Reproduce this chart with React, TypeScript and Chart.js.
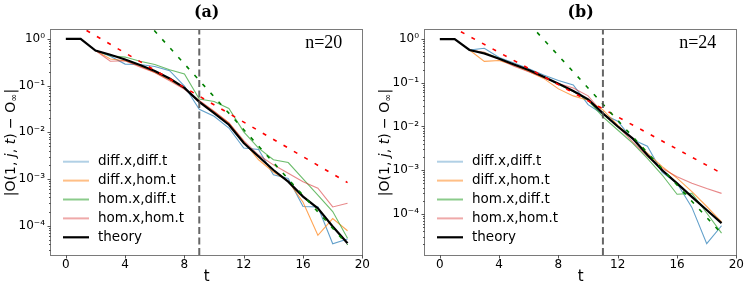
import React, { useEffect, useRef } from 'react';
import { Chart, registerables } from 'chart.js';

Chart.register(...registerables);

// ---------------- data ----------------
const T = [0, 1, 2, 3, 4, 5, 6, 7, 8, 9, 10, 11, 12, 13, 14, 15, 16, 17, 18, 19];
const DASH_T = [0, 19];
const X_TICKS = [0, 4, 8, 12, 16, 20];
const X_RANGE = [-1, 20];
const Y_TICKS = [1, 0.1, 0.01, 0.001, 0.0001];
const Y_TICK_LABELS = ['10⁰', '10⁻¹', '10⁻²', '10⁻³', '10⁻⁴'];
const LEGEND_LABELS = ['diff.x,diff.t', 'diff.x,hom.t', 'hom.x,diff.t', 'hom.x,hom.t', 'theory'];
const TITLES = ['(a)', '(b)'];
const N_LABELS = ['n=20', 'n=24'];
const VLINES = [9, 11];
const Y_RANGE_A = [2.34e-5, 1.55];
const Y_RANGE_B = [1.15e-5, 1.61];

// panel (a), n = 20
const A_DIFFX_DIFFT = [null, null, 0.5623, 0.4266, 0.2884, 0.2818, 0.2570, 0.2089, 0.0977, 0.0309, 0.0219, 0.0123, 0.00457, 0.00427, 0.00123, 0.00102, 0.000257, 0.000251, 0.0000407, 0.0000513];
const A_DIFFX_HOMT = [null, null, 0.5623, 0.3715, 0.3388, 0.2630, 0.1905, 0.1318, 0.0871, 0.0468, 0.0275, 0.0158, 0.00631, 0.00257, 0.00141, 0.000891, 0.000316, 0.0000617, 0.000141, 0.0000776];
const A_HOMX_DIFFT = [null, null, 0.5623, 0.4365, 0.4074, 0.3311, 0.2818, 0.2188, 0.1778, 0.0513, 0.0457, 0.0324, 0.0102, 0.00457, 0.00257, 0.00224, 0.001, 0.000447, 0.000200, 0.0000537];
const A_HOMX_HOMT = [null, null, 0.5623, 0.3311, 0.3388, 0.2512, 0.1905, 0.1259, 0.0832, 0.0479, 0.0282, 0.0158, 0.00661, 0.00324, 0.00200, 0.00132, 0.000871, 0.000631, 0.000251, 0.000302];
const A_THEORY = [1, 1, 0.5623, 0.4571, 0.3631, 0.2754, 0.2042, 0.1413, 0.0891, 0.0447, 0.0257, 0.0145, 0.00589, 0.00302, 0.00155, 0.000871, 0.000417, 0.000234, 0.0000955, 0.0000417];
const A_RED_DASH = [2.754, 0.000832];
const A_GREEN_DASH = [190.5, 0.0000389];

// panel (b), n = 24
const B_DIFFX_DIFFT = [null, null, 0.5623, 0.6166, 0.3802, 0.2818, 0.2089, 0.1514, 0.1122, 0.0891, 0.0316, 0.0191, 0.0132, 0.00501, 0.00355, 0.000891, 0.000501, 0.000141, 0.0000209, 0.0000537];
const B_DIFFX_HOMT = [null, null, 0.5623, 0.3090, 0.3236, 0.2512, 0.1820, 0.1259, 0.0724, 0.0501, 0.0398, 0.0240, 0.0107, 0.00537, 0.00245, 0.00120, 0.000661, 0.000324, 0.000148, 0.0000661];
const B_HOMX_DIFFT = [null, null, 0.5623, 0.4898, 0.3631, 0.2630, 0.1905, 0.1349, 0.0912, 0.0631, 0.0398, 0.0166, 0.00832, 0.00417, 0.00186, 0.000776, 0.000282, 0.000295, 0.000105, 0.0000363];
const B_HOMX_HOMT = [null, null, 0.5623, 0.5012, 0.3467, 0.2399, 0.1778, 0.1318, 0.0955, 0.0759, 0.0501, 0.0200, 0.01, 0.00447, 0.00204, 0.00110, 0.000708, 0.000501, 0.000380, 0.000295];
const B_THEORY = [1, 1, 0.5623, 0.4677, 0.3548, 0.2630, 0.1950, 0.1380, 0.0955, 0.0646, 0.0417, 0.0200, 0.01, 0.00537, 0.00224, 0.001, 0.000501, 0.000245, 0.000123, 0.0000617];
const B_RED_DASH = [2.692, 0.000851];
const B_GREEN_DASH = [380.2, 0.0000355];

// ---------------- styling ----------------
const LINE_COLORS = ['rgba(31,119,180,0.7)', 'rgba(255,127,14,0.7)', 'rgba(44,160,44,0.7)', 'rgba(214,39,40,0.55)', '#000000'];
const LEGEND_COLORS = ['rgba(31,119,180,0.35)', 'rgba(255,127,14,0.5)', 'rgba(44,160,44,0.55)', 'rgba(214,39,40,0.4)', '#000000'];
const SANS = '"DejaVu Sans", sans-serif';

type PanelDef = {
  title: string;
  nLabel: string;
  vline: number;
  yRange: number[];
  series: (number | null)[][];
  redDash: number[];
  greenDash: number[];
};

const PANELS: PanelDef[] = [
  { title: TITLES[0], nLabel: N_LABELS[0], vline: VLINES[0], yRange: Y_RANGE_A, series: [A_DIFFX_DIFFT, A_DIFFX_HOMT, A_HOMX_DIFFT, A_HOMX_HOMT, A_THEORY], redDash: A_RED_DASH, greenDash: A_GREEN_DASH },
  { title: TITLES[1], nLabel: N_LABELS[1], vline: VLINES[1], yRange: Y_RANGE_B, series: [B_DIFFX_DIFFT, B_DIFFX_HOMT, B_HOMX_DIFFT, B_HOMX_HOMT, B_THEORY], redDash: B_RED_DASH, greenDash: B_GREEN_DASH },
];

const W = 373;
const H = 285;

function toPoints(xs: number[], ys: (number | null)[]) {
  return xs.map((x, i) => ({ x, y: ys[i] }));
}

function makeDecor(p: PanelDef) {
  return {
    id: 'decor',
    afterDraw(chart: any) {
      const { ctx, chartArea: a, scales } = chart;
      const xs = scales.x;
      const ys = scales.y;
      ctx.save();
      // frame
      ctx.strokeStyle = '#7a7a7a';
      ctx.lineWidth = 1;
      ctx.strokeRect(Math.round(a.left) - 0.5, Math.round(a.top) - 0.5, Math.round(a.right - a.left) + 1, Math.round(a.bottom - a.top) + 1);
      // ticks
      ctx.strokeStyle = '#555';
      ctx.beginPath();
      for (const v of X_TICKS) {
        const px = Math.round(xs.getPixelForValue(v)) + 0.5;
        ctx.moveTo(px, a.bottom);
        ctx.lineTo(px, a.bottom + 3.5);
      }
      for (let e = -6; e <= 1; e++) {
        for (let m = 1; m <= 9; m++) {
          const v = m * Math.pow(10, e);
          if (v < ys.min || v > ys.max) continue;
          const py = Math.round(ys.getPixelForValue(v)) + 0.5;
          const len = m === 1 ? 3.5 : 2;
          ctx.moveTo(a.left, py);
          ctx.lineTo(a.left - len, py);
        }
      }
      ctx.stroke();

      // n label
      ctx.fillStyle = '#000';
      ctx.font = '18px "Liberation Serif", serif';
      ctx.textAlign = 'right';
      ctx.textBaseline = 'middle';
      ctx.fillText(p.nLabel, a.right - 20, a.top + 13);

      // legend
      ctx.font = `13.5px ${SANS}`;
      ctx.textAlign = 'left';
      LEGEND_LABELS.forEach((lab, i) => {
        const y = a.top + 131.7 + i * 18.9;
        ctx.strokeStyle = LEGEND_COLORS[i];
        ctx.lineWidth = i === 4 ? 2.2 : 2;
        ctx.beginPath();
        ctx.moveTo(a.left + 12, y);
        ctx.lineTo(a.left + 38, y);
        ctx.stroke();
        ctx.fillStyle = '#000';
        ctx.fillText(lab, a.left + 47, y);
      });

      // y label (rotated, with subscript)
      const fs = 14;
      const parts = [
        { t: '|O(1, ', f: `${fs}px ${SANS}`, dy: 0 },
        { t: 'j', f: `italic ${fs}px ${SANS}`, dy: 0 },
        { t: ', ', f: `${fs}px ${SANS}`, dy: 0 },
        { t: 't', f: `italic ${fs}px ${SANS}`, dy: 0 },
        { t: ') − O', f: `${fs}px ${SANS}`, dy: 0 },
        { t: '∞', f: `${fs * 0.7}px ${SANS}`, dy: fs * 0.28 },
        { t: '|', f: `${fs}px ${SANS}`, dy: 0 },
      ];
      ctx.translate(11, (a.top + a.bottom) / 2);
      ctx.rotate(-Math.PI / 2);
      let total = 0;
      const widths = parts.map((pt) => {
        ctx.font = pt.f;
        const w = ctx.measureText(pt.t).width;
        total += w;
        return w;
      });
      let x = -total / 2;
      ctx.fillStyle = '#000';
      ctx.textAlign = 'left';
      ctx.textBaseline = 'middle';
      parts.forEach((pt, i) => {
        ctx.font = pt.f;
        ctx.fillText(pt.t, x, pt.dy);
        x += widths[i];
      });
      ctx.restore();
    },
  };
}

function PanelChart({ p, left }: { p: PanelDef; left: number }) {
  const ref = useRef<HTMLCanvasElement | null>(null);
  useEffect(() => {
    const canvas = ref.current;
    if (!canvas) return;
    const lineDs = (data: any[], color: string, width: number, extra: any = {}) => ({
      data,
      borderColor: color,
      backgroundColor: color,
      borderWidth: width,
      pointRadius: 0,
      pointHoverRadius: 0,
      tension: 0,
      fill: false,
      spanGaps: false,
      ...extra,
    });
    const datasets = [
      lineDs(toPoints([p.vline, p.vline], [p.yRange[0], p.yRange[1]]), 'rgba(75,75,75,0.85)', 2, { borderDash: [7, 3.5] }),
      lineDs(toPoints(DASH_T, p.greenDash), '#008000', 1.6, { borderDash: [4, 8] }),
      lineDs(toPoints(DASH_T, p.redDash), '#ff0000', 1.6, { borderDash: [4, 8] }),
      lineDs(toPoints(T, p.series[4]), LINE_COLORS[4], 2.2),
      lineDs(toPoints(T, p.series[3]), LINE_COLORS[3], 1.1),
      lineDs(toPoints(T, p.series[2]), LINE_COLORS[2], 1.1),
      lineDs(toPoints(T, p.series[1]), LINE_COLORS[1], 1.1),
      lineDs(toPoints(T, p.series[0]), LINE_COLORS[0], 1.1),
    ];
    const chart = new Chart(canvas, {
      type: 'line',
      data: { datasets },
      options: {
        responsive: false,
        animation: false,
        devicePixelRatio: 1,
        layout: { padding: { left: 0, right: 9, top: 0, bottom: 0 } },
        plugins: {
          legend: { display: false },
          tooltip: { enabled: false },
          title: {
            display: true,
            text: p.title,
            fullSize: false,
            color: '#000',
            font: { family: '"DejaVu Serif", serif', weight: 'bold', size: 16, lineHeight: 1.2 },
            padding: { top: 3, bottom: 7.8 },
          },
        },
        scales: {
          x: {
            type: 'linear',
            min: X_RANGE[0],
            max: X_RANGE[1],
            grid: { display: false, drawTicks: false },
            border: { display: false },
            afterBuildTicks: (s: any) => { s.ticks = X_TICKS.map((v) => ({ value: v })); },
            afterFit: (s: any) => { s.height = 30; },
            ticks: { autoSkip: false, maxRotation: 0, padding: 3, color: '#000', font: { family: SANS, size: 12 } },
            title: { display: true, text: 't', color: '#000', font: { family: SANS, size: 15, lineHeight: 1 }, padding: { top: 0, bottom: 0 } },
          },
          y: {
            type: 'logarithmic',
            min: p.yRange[0],
            max: p.yRange[1],
            grid: { display: false, drawTicks: false },
            border: { display: false },
            afterBuildTicks: (s: any) => { s.ticks = Y_TICKS.map((v) => ({ value: v })); },
            afterFit: (s: any) => { s.width = 51; },
            ticks: {
              autoSkip: false,
              padding: 6,
              color: '#000',
              font: { family: SANS, size: 12 },
              callback: (v: any) => {
                const i = Y_TICKS.findIndex((t) => Math.abs(t - Number(v)) / t < 1e-6);
                return i >= 0 ? Y_TICK_LABELS[i] : '';
              },
            },
          },
        },
      } as any,
      plugins: [makeDecor(p)],
    });
    return () => chart.destroy();
  }, [p]);
  return (
    <canvas
      ref={ref}
      width={W}
      height={H}
      style={{ position: 'absolute', left, top: 0, width: W, height: H }}
    />
  );
}

export default function App() {
  return (
    <div style={{ position: 'fixed', left: 0, top: 0, width: 747, height: 285, background: '#fff', overflow: 'hidden' }}>
      <PanelChart p={PANELS[0]} left={0} />
      <PanelChart p={PANELS[1]} left={374} />
    </div>
  );
}
